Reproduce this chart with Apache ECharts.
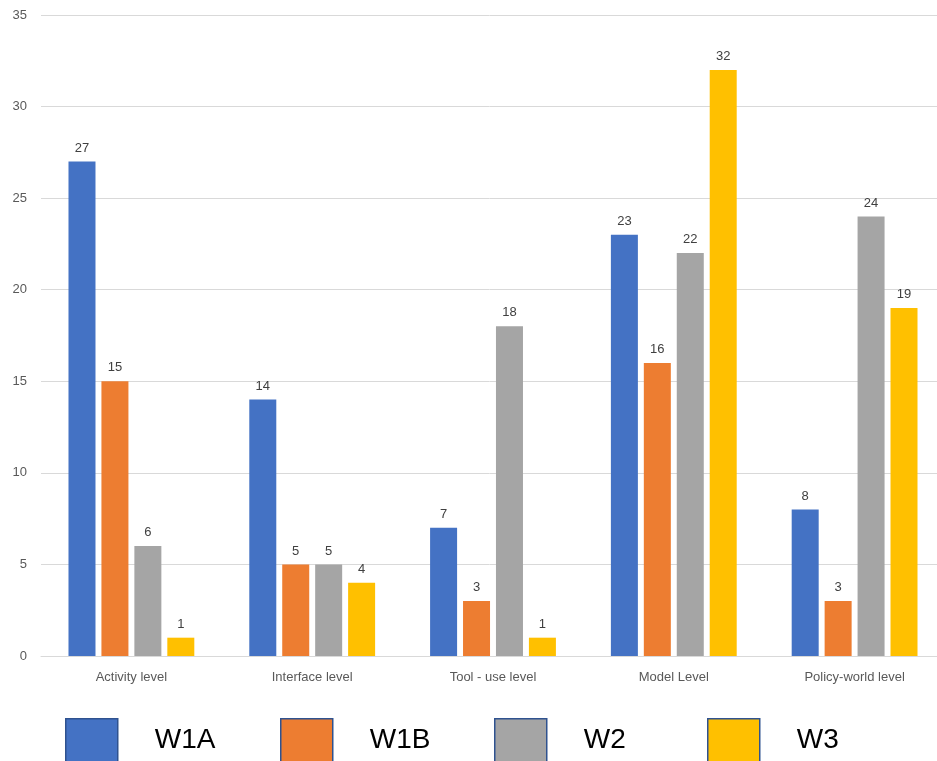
<!DOCTYPE html>
<html>
<head>
<meta charset="utf-8">
<script src="https://cdn.jsdelivr.net/npm/echarts@6/dist/echarts.min.js"></script>
<style>html,body{margin:0;padding:0;background:#fff}#c{width:937px;height:761px}</style>
</head>
<body>
<div id="c"></div>
<script>
var categories = ['Activity level', 'Interface level', 'Tool - use level', 'Model Level', 'Policy-world level'];
var seriesNames = ['W1A', 'W1B', 'W2', 'W3'];
var w1a = [27, 14, 7, 23, 8];
var w1b = [15, 5, 3, 16, 3];
var w2 = [6, 5, 18, 22, 24];
var w3 = [1, 4, 1, 32, 19];
var colors = ['#4472C4', '#ED7D31', '#A5A5A5', '#FFC000'];
var yTicks = [0, 5, 10, 15, 20, 25, 30, 35];

var values = [w1a, w1b, w2, w3];
var legendLefts = [65, 280, 494, 707];
var chart = echarts.init(document.getElementById('c'));
var font = '"Liberation Sans", "DejaVu Sans", sans-serif';
chart.setOption({
  animation: false,
  color: colors,
  grid: { left: 41, top: 15, width: 904, bottom: 105, containLabel: false, outerBoundsMode: 'none' },
  xAxis: {
    type: 'category',
    data: categories,
    axisLine: { lineStyle: { color: '#D9D9D9', width: 1 } },
    axisTick: { show: false },
    axisLabel: { color: '#595959', fontSize: 13, fontFamily: font, margin: 15 }
  },
  yAxis: {
    type: 'value',
    min: yTicks[0], max: yTicks[yTicks.length - 1], interval: 5,
    axisLine: { show: false },
    axisTick: { show: false },
    axisLabel: { color: '#595959', fontSize: 13, fontFamily: font, margin: 14 },
    splitLine: { lineStyle: { color: '#D9D9D9', width: 1 } }
  },
  legend: seriesNames.map(function (n, i) {
    return {
      data: [n],
      left: legendLefts[i],
      top: 718,
      padding: 0,
      itemWidth: 52,
      itemHeight: 44,
      icon: 'rect',
      itemStyle: { borderColor: '#2F528F', borderWidth: 1.5 },
      textStyle: { fontSize: 28, color: '#000', fontFamily: font, padding: [0, 0, 6, 32] },
      selectedMode: false
    };
  }),
  series: seriesNames.map(function (n, i) {
    return {
      name: n,
      type: 'bar',
      data: values[i],
      barWidth: 27,
      barGap: '22%',
      itemStyle: { color: colors[i] },
      label: { show: true, position: 'top', distance: 7, color: '#404040', fontSize: 13, fontFamily: font }
    };
  })
});
</script>
</body>
</html>
